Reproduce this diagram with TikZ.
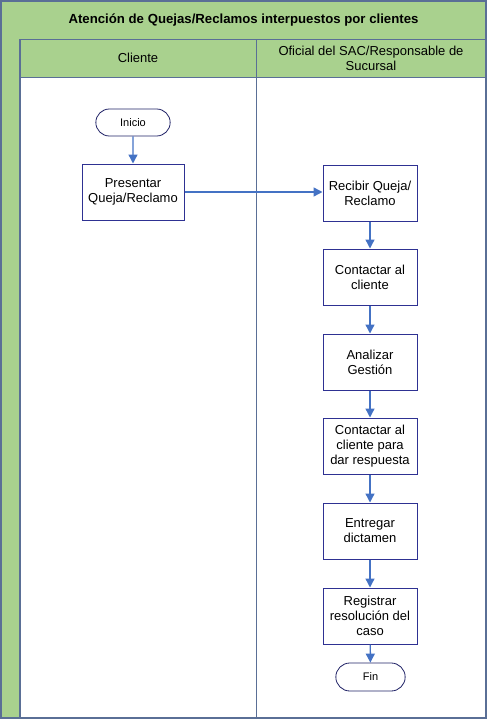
\documentclass[tikz,border=0pt]{standalone}
\usepackage{fontspec}
\setmainfont{Liberation Sans}
\usetikzlibrary{arrows.meta,shapes.misc}
\definecolor{lanegreen}{HTML}{A9D18E}
\definecolor{laneline}{HTML}{5A6F96}
\definecolor{boxline}{HTML}{2E3192}
\definecolor{arrowc}{HTML}{4472C4}
\tikzset{
  procbox/.style={draw=boxline, line width=1pt, fill=white, minimum width=94pt, minimum height=56pt, align=center, font=\fontsize{13}{15}\selectfont, inner sep=1pt},
  term/.style={draw=boxline!70!black, line width=0.8pt, fill=white, rounded rectangle, minimum width=81pt, minimum height=27pt, font=\fontsize{11}{13}\selectfont},
  flow/.style={draw=arrowc, line width=1.4pt, -{Triangle[length=9pt,width=9pt]}},
  hdr/.style={font=\fontsize{13}{15}\selectfont, align=center}
}
\begin{document}
\begin{tikzpicture}[x=1pt,y=-1pt]
\useasboundingbox (0,0) rectangle (487,720);
% title band
\fill[lanegreen] (1,1) rectangle (486,39);
\fill[lanegreen] (1,39) rectangle (20,718);
\fill[lanegreen] (20,39) rectangle (486,77);
\draw[laneline, line width=1pt] (20,39) -- (486,39);
\draw[laneline, line width=1pt] (20,77) -- (486,77);
\draw[laneline, line width=1.5pt] (20,39) -- (20,718);
\draw[laneline, line width=1pt] (256,39) -- (256,718);
\draw[laneline, line width=1.5pt] (1,1) rectangle (486,718);
\node[font=\bfseries\fontsize{13.2}{15}\selectfont] (title) at (243.5,20) {Atención de Quejas/Reclamos interpuestos por clientes};
\node[hdr] (h1) at (138,58) {Cliente};
\node[hdr] (h2) at (371,58) {Oficial del SAC/Responsable de\\Sucursal};
% nodes
\node[term] (ini) at (133,122.5) {Inicio};
\node[procbox, minimum width=102pt] (pres) at (133,192) {Presentar\\Queja/Reclamo};
\node[procbox] (rec) at (370,193) {Recibir Queja/\\Reclamo};
\node[procbox] (cont) at (370,277) {Contactar al\\cliente};
\node[procbox] (anal) at (370,362) {Analizar\\Gestión};
\node[procbox] (resp) at (370,446) {Contactar al\\cliente para\\dar respuesta};
\node[procbox] (ent) at (370,531) {Entregar\\dictamen};
\node[procbox] (reg) at (370,616) {Registrar\\resolución del\\caso};
\node[term, minimum width=76pt, minimum height=28pt] (fin) at (370.5,677) {Fin};
% arrows
\draw[flow] (ini) -- (pres);
\draw[flow] (pres.east) -- (pres.east -| rec.west);
\draw[flow] (rec) -- (cont);
\draw[flow] (cont) -- (anal);
\draw[flow] (anal) -- (resp);
\draw[flow] (resp) -- (ent);
\draw[flow] (ent) -- (reg);
\draw[flow] (reg) -- (fin);
\end{tikzpicture}
\end{document}
